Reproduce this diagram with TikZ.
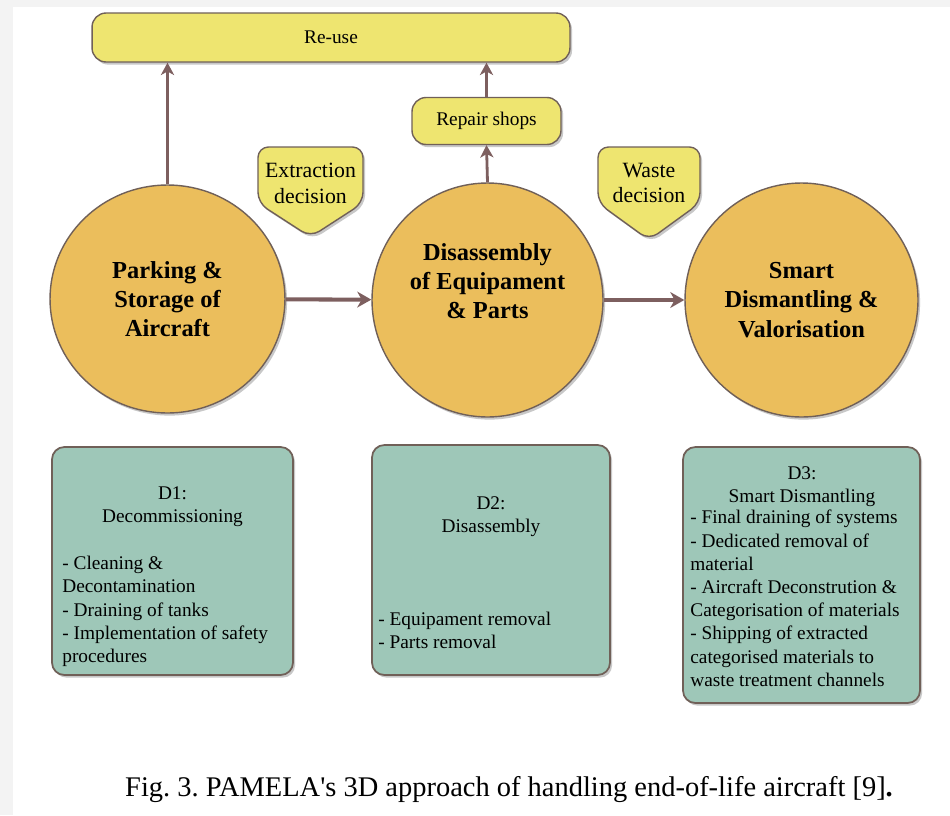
\documentclass[tikz,border=0pt]{standalone}
\usepackage{fontspec}
\setmainfont{Liberation Serif}
\usepackage{tikz}
\usetikzlibrary{calc,shapes.geometric,arrows.meta,shadows}
\definecolor{reuseyellow}{RGB}{238,229,112}
\definecolor{stagegold}{RGB}{235,190,92}
\definecolor{dteal}{RGB}{158,199,184}
\definecolor{edgebrown}{RGB}{112,96,88}
\definecolor{flowbrown}{RGB}{125,95,95}
\definecolor{pagegray}{RGB}{243,243,243}
\tikzset{
	softshadow/.style={drop shadow={shadow xshift=1.2pt,shadow yshift=-1.5pt,opacity=0.3,fill=black!70}},
	yellowbox/.style={draw=edgebrown,line width=0.8pt,fill=reuseyellow,rounded corners=8pt,softshadow,inner sep=0pt,font=\fontsize{11}{13.2}\selectfont},
	stage/.style={ellipse,draw=edgebrown,line width=0.8pt,fill=stagegold,softshadow,align=center,inner sep=0pt,font=\bfseries\fontsize{13.9}{16.6}\selectfont},
	dbox/.style={draw=edgebrown,line width=1pt,fill=dteal,rounded corners=7pt,softshadow,inner sep=0pt},
	dhead/.style={align=center,inner sep=0pt,font=\fontsize{11}{13.2}\selectfont},
	dtext/.style={align=left,inner sep=0pt,font=\fontsize{11}{13.2}\selectfont},
	decision/.style={draw=edgebrown,line width=0.8pt,fill=reuseyellow,rounded corners=6pt,softshadow},
	dectext/.style={align=center,inner sep=0pt,font=\fontsize{12.4}{14.7}\selectfont},
	flow/.style={draw=flowbrown,line width=2.3pt,-{Stealth[length=8pt,width=9pt,inset=2.5pt]}},
	lift/.style={draw=flowbrown,line width=1.6pt,-{Stealth[length=7pt,width=7.5pt,inset=2pt]}}
}

\begin{document}
\begin{tikzpicture}[x=0.02cm,y=-0.02cm]
			%%%%% START %%%%%
			
			\useasboundingbox (0,0) rectangle (950,815);
			\fill[pagegray] (0,0) rectangle (950,815);
			\fill[white] (13,7) rectangle (950,815);
			
			\node[yellowbox,minimum width=9.56cm,minimum height=0.98cm] (reuse) at (331,37.5) {Re-use};
			\node[yellowbox,minimum width=2.98cm,minimum height=0.94cm] (repair) at (486.5,121) {Repair shops};
			
			\draw[decision] (258,147) -- (363,147) -- (363,203) -- (310.5,237) -- (258,203) -- cycle;
			\node[dectext] (extract) at (310.5,183) {Extraction\\decision};
			\draw[decision] (598,147) -- (700,147) -- (700,203) -- (649,240) -- (598,203) -- cycle;
			\node[dectext] (waste) at (649,183) {Waste\\decision};
			
			\node[stage,minimum width=4.7cm,minimum height=4.56cm] (park) at (167.5,299) {Parking \&\\Storage of\\Aircraft};
			\node[stage,minimum width=4.62cm,minimum height=4.68cm] (disas) at (487.5,300) {Disassembly\\of Equipament\\\& Parts\\\strut};
			\node[stage,minimum width=4.66cm,minimum height=4.68cm] (smart) at (801.5,300) {Smart\\Dismantling \&\\Valorisation};
			
			\draw[flow] (park) -- (disas);
			\draw[flow] (disas) -- (smart);
			\draw[lift] (park.north) -- (park.north |- reuse.south);
			\draw[lift] (disas.north) -- (repair.south);
			\draw[lift] (repair.north) -- (repair.north |- reuse.south);
			
			\node[dbox,minimum width=4.82cm,minimum height=4.56cm] (d1) at (172.5,561) {};
			\node[dhead,anchor=north] (d1head) at (172.5,486) {D1:\\Decommissioning};
			\node[dtext,anchor=north west] (d1list) at (62,556) {- Cleaning \&\\Decontamination\\- Draining of tanks\\- Implementation of safety\\procedures};
			
			\node[dbox,minimum width=4.76cm,minimum height=4.6cm] (d2) at (491,560) {};
			\node[dhead,anchor=north] (d2head) at (491,496) {D2:\\Disassembly};
			\node[dtext,anchor=north west] (d2list) at (378,612) {- Equipament removal\\- Parts removal};
			
			\node[dbox,minimum width=4.74cm,minimum height=5.12cm] (d3) at (801.5,575) {};
			\node[dhead,anchor=north] (d3head) at (802,466) {D3:\\Smart Dismantling};
			\node[dtext,anchor=north west] (d3list) at (690,510) {- Final draining of systems\\- Dedicated removal of\\material\\- Aircraft Deconstrution \&\\Categorisation of materials\\- Shipping of extracted\\categorised materials to\\waste treatment channels};
			
			\node[anchor=base,inner sep=0pt,font=\fontsize{16.2}{19}\selectfont\frenchspacing] (caption) at (509,796) {Fig. 3. PAMELA\textquotesingle s 3D approach of handling end-of-life aircraft [9]{\bfseries .}};
			
			%%%%% END %%%%%
\end{tikzpicture}
\end{document}
